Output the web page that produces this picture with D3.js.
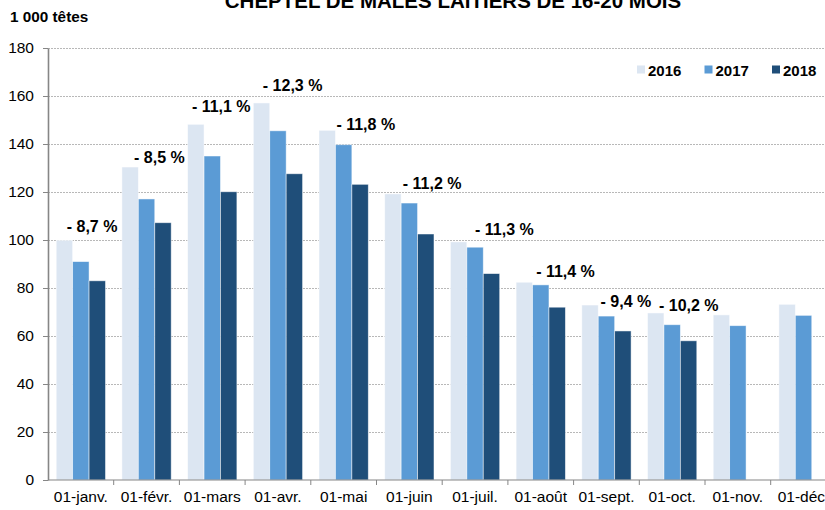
<!DOCTYPE html>
<html lang="fr">
<head>
<meta charset="utf-8">
<title>Cheptel de mâles laitiers de 16-20 mois</title>
<script src="https://cdn.jsdelivr.net/npm/d3@7"></script>
<style>
  body { margin: 0; background: #fff; }
  svg { display: block; font-family: "Liberation Sans", Arial, sans-serif; }
  .grid line { stroke: #a6a6a6; stroke-dasharray: 2 1; stroke-width: 0.8; }
  .axis path, .axis line { stroke: #868686; }
  .axis text { fill: #000; }
</style>
</head>
<body>
<div id="chart"></div>
<script>
'use strict';

// months on the x axis
const months = ["01-janv.", "01-févr.", "01-mars", "01-avr.", "01-mai", "01-juin",
  "01-juil.", "01-août", "01-sept.", "01-oct.", "01-nov.", "01-déc."];
const years = ["2016", "2017", "2018"];

// thousands of head
const v2016 = [99.9, 130.4, 148.2, 157.1, 145.7, 119.2, 99.2, 82.4, 72.9, 69.6, 68.8, 73.2];
const v2017 = [91.0, 117.1, 135.0, 145.5, 139.7, 115.4, 97.0, 81.3, 68.3, 64.7, 64.3, 68.6];
const v2018 = [83.0, 107.2, 120.1, 127.6, 123.2, 102.5, 86.0, 72.0, 62.1, 58.0, null, null];

// change 2018/2017 labels
const changes = ["- 8,7 %", "- 8,5 %", "- 11,1 %", "- 12,3 %", "- 11,8 %", "- 11,2 %",
  "- 11,3 %", "- 11,4 %", "- 9,4 %", "- 10,2 %"];
// where the labels sit: fraction across the month band, and value on the y scale
const changeBand = [0.285, 0.31, 0.19, 0.27, 0.39, 0.40, 0.50, 0.43, 0.41, 0.30];
const changeLevel = [103.5, 132, 153.2, 162.1, 145.8, 121.1, 102.1, 84.7, 72.2, 70.5];

const yTicks = [0, 20, 40, 60, 80, 100, 120, 140, 160, 180];

const colors = { "2016": "#dce6f2", "2017": "#5b9bd5", "2018": "#1f4e79" };

const width = 825, height = 510;
const margin = { top: 48, left: 48, bottom: 30 };
const bandStep = 65.7;

const series = years.map((yr, i) => ({ year: yr, values: [v2016, v2017, v2018][i] }));

const svg = d3.select("#chart").append("svg")
  .attr("width", width)
  .attr("height", height);

const x0 = d3.scaleBand()
  .domain(months)
  .range([margin.left, margin.left + bandStep * months.length])
  .padding(0);

const x1 = d3.scaleBand()
  .domain(years)
  .range([0, x0.bandwidth()])
  .paddingInner(0)
  .paddingOuter(0.5);

const y = d3.scaleLinear()
  .domain([0, 180])
  .range([height - margin.bottom, margin.top]);

// gridlines
svg.append("g").attr("class", "grid")
  .selectAll("line")
  .data(yTicks.filter(d => d > 0))
  .join("line")
  .attr("x1", margin.left)
  .attr("x2", width)
  .attr("y1", d => y(d) + 0.5)
  .attr("y2", d => y(d) + 0.5);

// bars
svg.append("g")
  .selectAll("g")
  .data(series)
  .join("g")
  .attr("fill", d => colors[d.year])
  .selectAll("rect")
  .data(d => d.values.map((v, i) => ({ year: d.year, month: months[i], v })).filter(e => e.v != null))
  .join("rect")
  .attr("x", d => x0(d.month) + x1(d.year))
  .attr("width", x1.bandwidth())
  .attr("y", d => y(d.v))
  .attr("height", d => y(0) - y(d.v))
  .attr("stroke", "#ffffff")
  .attr("stroke-opacity", 0.6)
  .attr("stroke-width", 0.8);

// y axis
const yAxis = svg.append("g").attr("class", "axis")
  .attr("transform", `translate(${margin.left},0)`)
  .call(d3.axisLeft(y).tickValues(yTicks).tickSize(5).tickPadding(9).tickSizeOuter(0));
yAxis.select(".domain").attr("stroke-width", 1.6);
yAxis.selectAll("text").attr("font-size", 15.5);

// x axis, ticks between the months
const xAxis = svg.append("g").attr("class", "axis")
  .attr("transform", `translate(0,${y(0)})`);
xAxis.append("line")
  .attr("x1", margin.left).attr("x2", width)
  .attr("stroke", "#868686").attr("stroke-width", 1.2);
xAxis.selectAll(".tk")
  .data(months)
  .join("line")
  .attr("class", "tk")
  .attr("x1", d => x0(d) + x0.bandwidth())
  .attr("x2", d => x0(d) + x0.bandwidth())
  .attr("y1", 0).attr("y2", 5)
  .attr("stroke", "#868686");
xAxis.selectAll("text")
  .data(months)
  .join("text")
  .attr("x", d => x0(d) + x0.bandwidth() / 2)
  .attr("y", 22)
  .attr("text-anchor", "middle")
  .attr("font-size", 15.5)
  .text(d => d);

// change labels
svg.append("g")
  .selectAll("text")
  .data(changes)
  .join("text")
  .attr("x", (d, i) => x0(months[i]) + changeBand[i] * x0.bandwidth())
  .attr("y", (d, i) => y(changeLevel[i]))
  .attr("font-size", 16)
  .attr("font-weight", "bold")
  .text(d => d);

// legend
const legend = svg.append("g")
  .selectAll("g")
  .data(years)
  .join("g")
  .attr("transform", (d, i) => `translate(${637 + i * 67.5},65.5)`);
legend.append("rect")
  .attr("width", 8).attr("height", 8)
  .attr("fill", d => colors[d]);
legend.append("text")
  .attr("x", 11).attr("y", 10.5)
  .attr("font-size", 15)
  .attr("font-weight", "bold")
  .text(d => d);

// unit and title
svg.append("text")
  .attr("x", 10).attr("y", 21.5)
  .attr("font-size", 15.3)
  .attr("font-weight", "bold")
  .text("1 000 têtes");

svg.append("text")
  .attr("x", 453).attr("y", 8)
  .attr("text-anchor", "middle")
  .attr("font-size", 20.5)
  .attr("font-weight", "bold")
  .text("CHEPTEL DE MÂLES LAITIERS DE 16-20 MOIS");
</script>
</body>
</html>
